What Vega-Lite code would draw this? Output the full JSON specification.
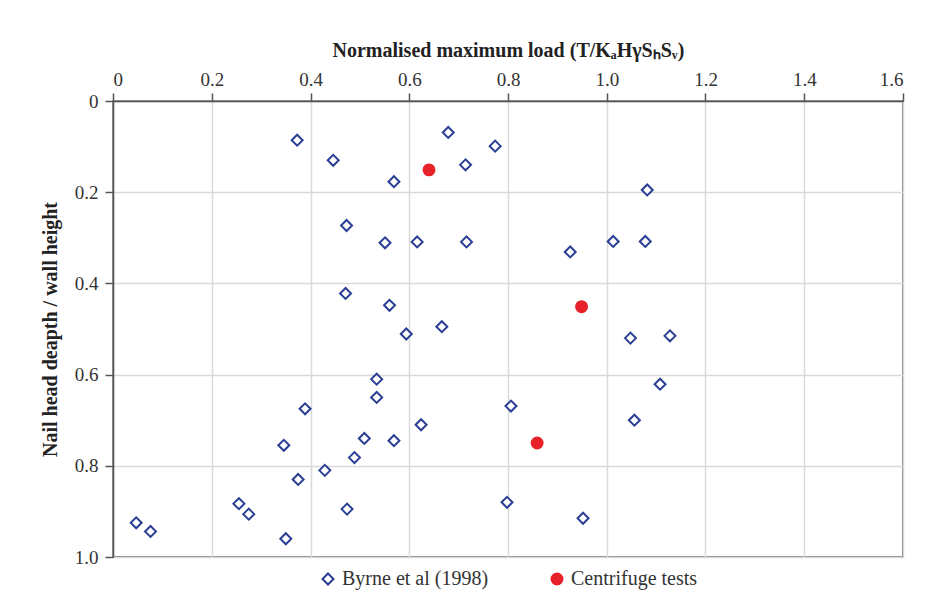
{
  "$schema": "https://vega.github.io/schema/vega-lite/v6.json",
  "autosize": "none",
  "width": 790,
  "height": 456,
  "padding": {"left": 113, "top": 101, "right": 33, "bottom": 57},
  "background": "white",
  "config": {
    "font": "Liberation Serif",
    "view": {"stroke": "#5a5a5a", "strokeWidth": 1.5},
    "axis": {
      "labelFont": "Liberation Serif",
      "titleFont": "Liberation Serif",
      "labelFontSize": 19,
      "titleFontSize": 20,
      "labelColor": "#333333",
      "titleColor": "#222222",
      "domainColor": "#555555",
      "domainWidth": 1.5,
      "tickColor": "#555555",
      "tickWidth": 1.5,
      "tickSize": 8,
      "gridColor": "#d9d9d9",
      "gridWidth": 1.5
    },
    "legend": {
      "labelFont": "Liberation Serif",
      "labelFontSize": 20,
      "labelColor": "#333333",
      "layout": {"bottom": {"anchor": "middle"}}
    }
  },
  "data": {
    "values": [
      {"load": 0.373, "depth": 0.086, "series": "Byrne et al (1998)"},
      {"load": 0.446, "depth": 0.130, "series": "Byrne et al (1998)"},
      {"load": 0.569, "depth": 0.177, "series": "Byrne et al (1998)"},
      {"load": 0.679, "depth": 0.069, "series": "Byrne et al (1998)"},
      {"load": 0.714, "depth": 0.140, "series": "Byrne et al (1998)"},
      {"load": 0.774, "depth": 0.099, "series": "Byrne et al (1998)"},
      {"load": 1.082, "depth": 0.195, "series": "Byrne et al (1998)"},
      {"load": 0.473, "depth": 0.273, "series": "Byrne et al (1998)"},
      {"load": 0.551, "depth": 0.311, "series": "Byrne et al (1998)"},
      {"load": 0.616, "depth": 0.309, "series": "Byrne et al (1998)"},
      {"load": 0.716, "depth": 0.309, "series": "Byrne et al (1998)"},
      {"load": 0.926, "depth": 0.331, "series": "Byrne et al (1998)"},
      {"load": 1.013, "depth": 0.308, "series": "Byrne et al (1998)"},
      {"load": 1.078, "depth": 0.308, "series": "Byrne et al (1998)"},
      {"load": 0.471, "depth": 0.422, "series": "Byrne et al (1998)"},
      {"load": 0.560, "depth": 0.448, "series": "Byrne et al (1998)"},
      {"load": 0.594, "depth": 0.511, "series": "Byrne et al (1998)"},
      {"load": 0.666, "depth": 0.495, "series": "Byrne et al (1998)"},
      {"load": 1.048, "depth": 0.520, "series": "Byrne et al (1998)"},
      {"load": 1.128, "depth": 0.515, "series": "Byrne et al (1998)"},
      {"load": 0.534, "depth": 0.610, "series": "Byrne et al (1998)"},
      {"load": 0.534, "depth": 0.650, "series": "Byrne et al (1998)"},
      {"load": 1.108, "depth": 0.621, "series": "Byrne et al (1998)"},
      {"load": 0.389, "depth": 0.675, "series": "Byrne et al (1998)"},
      {"load": 0.806, "depth": 0.669, "series": "Byrne et al (1998)"},
      {"load": 1.056, "depth": 0.700, "series": "Byrne et al (1998)"},
      {"load": 0.624, "depth": 0.710, "series": "Byrne et al (1998)"},
      {"load": 0.509, "depth": 0.740, "series": "Byrne et al (1998)"},
      {"load": 0.569, "depth": 0.745, "series": "Byrne et al (1998)"},
      {"load": 0.346, "depth": 0.755, "series": "Byrne et al (1998)"},
      {"load": 0.489, "depth": 0.782, "series": "Byrne et al (1998)"},
      {"load": 0.429, "depth": 0.810, "series": "Byrne et al (1998)"},
      {"load": 0.375, "depth": 0.830, "series": "Byrne et al (1998)"},
      {"load": 0.798, "depth": 0.880, "series": "Byrne et al (1998)"},
      {"load": 0.952, "depth": 0.915, "series": "Byrne et al (1998)"},
      {"load": 0.255, "depth": 0.883, "series": "Byrne et al (1998)"},
      {"load": 0.275, "depth": 0.906, "series": "Byrne et al (1998)"},
      {"load": 0.474, "depth": 0.895, "series": "Byrne et al (1998)"},
      {"load": 0.047, "depth": 0.925, "series": "Byrne et al (1998)"},
      {"load": 0.076, "depth": 0.944, "series": "Byrne et al (1998)"},
      {"load": 0.350, "depth": 0.960, "series": "Byrne et al (1998)"},
      {"load": 0.640, "depth": 0.151, "series": "Centrifuge tests"},
      {"load": 0.949, "depth": 0.451, "series": "Centrifuge tests"},
      {"load": 0.859, "depth": 0.750, "series": "Centrifuge tests"}
    ]
  },
  "mark": {"type": "point", "strokeWidth": 2, "opacity": 1},
  "encoding": {
    "x": {
      "field": "load",
      "type": "quantitative",
      "scale": {"domain": [0, 1.6], "nice": false, "zero": false},
      "axis": {
        "orient": "top",
        "values": [0, 0.2, 0.4, 0.6, 0.8, 1.0, 1.2, 1.4, 1.6],
        "labelExpr": "datum.value == 0 ? '0' : format(datum.value, '.1f')",
        "title": "Normalised maximum load (T/KₐHγSₕSᵥ)",
        "titleFontWeight": "bold",
        "titlePadding": 10,
        "labelPadding": 4
      }
    },
    "y": {
      "field": "depth",
      "type": "quantitative",
      "scale": {"domain": [0, 1], "reverse": true, "nice": false, "zero": false},
      "axis": {
        "values": [0, 0.2, 0.4, 0.6, 0.8, 1.0],
        "labelExpr": "datum.value == 0 ? '0' : format(datum.value, '.1f')",
        "title": "Nail head deapth / wall height",
        "titleFontWeight": "bold",
        "titlePadding": 14,
        "labelPadding": 7
      }
    },
    "shape": {
      "field": "series",
      "type": "nominal",
      "scale": {"domain": ["Byrne et al (1998)", "Centrifuge tests"], "range": ["diamond", "circle"]},
      "legend": {"title": null, "orient": "bottom", "direction": "horizontal", "columnPadding": 58, "offset": 12, "symbolSize": 120, "symbolStrokeWidth": 2, "labelFont": "Liberation Serif", "labelFontSize": 20}
    },
    "fill": {
      "field": "series",
      "type": "nominal",
      "scale": {"domain": ["Byrne et al (1998)", "Centrifuge tests"], "range": ["white", "#e8222a"]},
      "legend": {"title": null, "orient": "bottom", "direction": "horizontal", "columnPadding": 58, "offset": 12, "symbolSize": 120, "symbolStrokeWidth": 2, "labelFont": "Liberation Serif", "labelFontSize": 20}
    },
    "stroke": {
      "field": "series",
      "type": "nominal",
      "scale": {"domain": ["Byrne et al (1998)", "Centrifuge tests"], "range": ["#2a3f94", "#e8222a"]},
      "legend": {"title": null, "orient": "bottom", "direction": "horizontal", "columnPadding": 58, "offset": 12, "symbolSize": 120, "symbolStrokeWidth": 2, "labelFont": "Liberation Serif", "labelFontSize": 20}
    },
    "size": {"value": 120}
  }
}
